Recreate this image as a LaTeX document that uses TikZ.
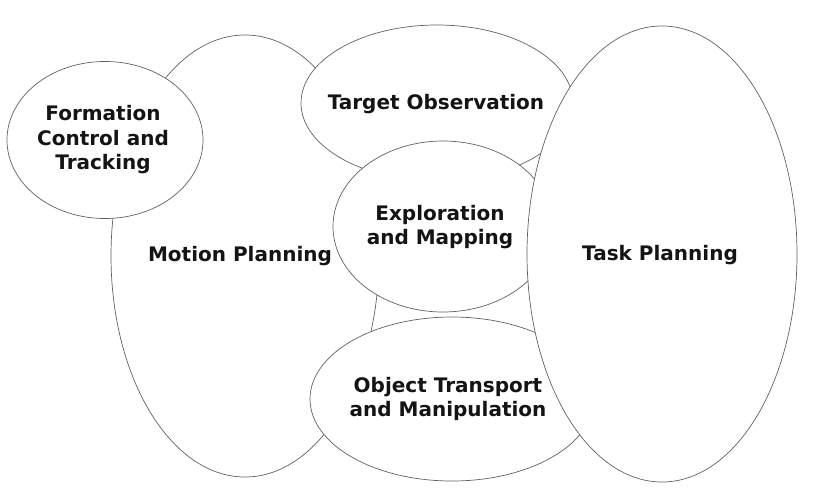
\documentclass[tikz,border=0pt]{standalone}
\usepackage{fontspec}
\setmainfont{DejaVu Sans}
\usetikzlibrary{shapes.geometric}
\begin{document}
\begin{tikzpicture}[x=1pt,y=-1pt,
  blob/.style={ellipse, draw=black!62, line width=0.7pt, fill=white, inner sep=0pt},
  lbl/.style={align=center, text=black!92, font=\fontsize{20}{24.5}\selectfont\bfseries, inner sep=0pt}]
\useasboundingbox (0,0) rectangle (818,490);
% ellipses, back to front
\node[blob, minimum width=268pt, minimum height=442pt] (motion) at (245,256) {};
\node[blob, minimum width=196pt, minimum height=157pt] (formation) at (105,140) {};
\node[blob, minimum width=272pt, minimum height=156pt] (target) at (437,103) {};
\node[blob, minimum width=220pt, minimum height=171pt] (explore) at (443,226.5) {};
\node[blob, minimum width=284pt, minimum height=164pt] (object) at (452,399) {};
\node[blob, minimum width=270pt, minimum height=456pt] (task) at (662,254) {};
% labels
\node[lbl] (formationtxt) at (103,140) {Formation\\Control and\\Tracking};
\node[lbl] (motiontxt) at (240,256) {Motion Planning};
\node[lbl] (targettxt) at (436,104) {Target Observation};
\node[lbl] (exploretxt) at (440,227) {Exploration\\and Mapping};
\node[lbl] (objecttxt) at (448,399) {Object Transport\\and Manipulation};
\node[lbl] (tasktxt) at (660,255) {Task Planning};
\end{tikzpicture}
\end{document}
